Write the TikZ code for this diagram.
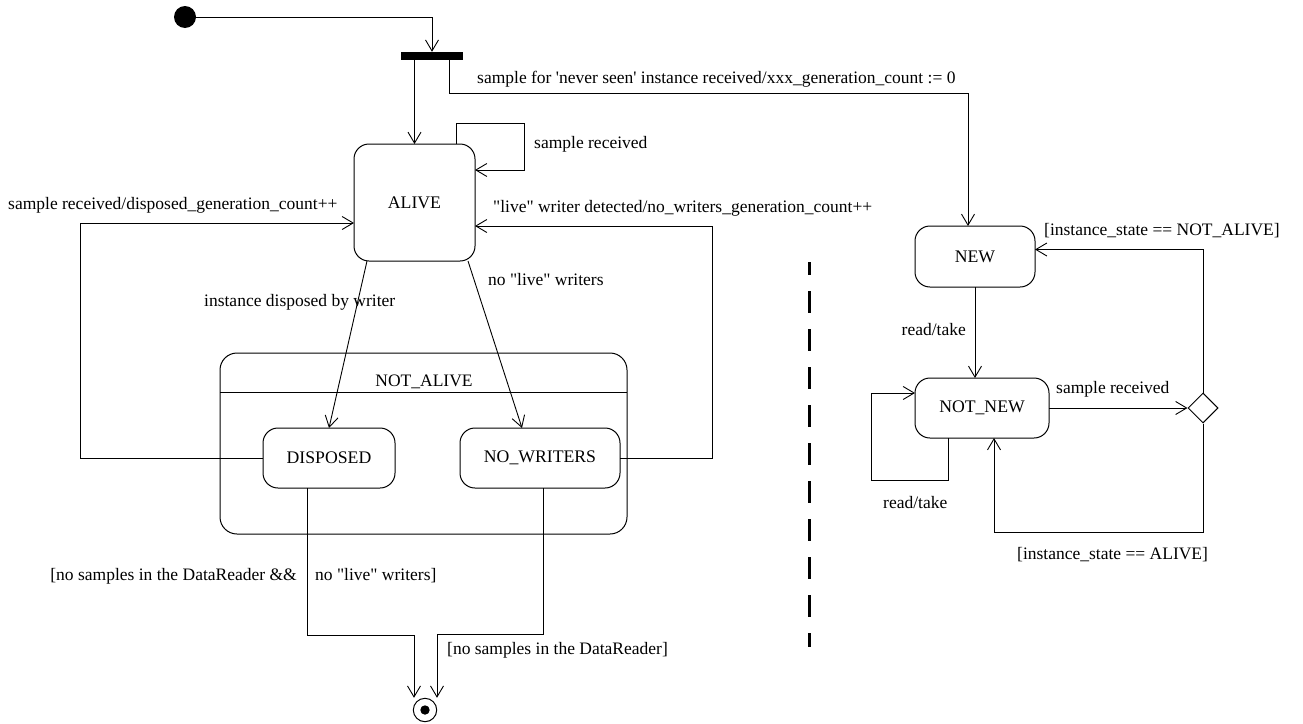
\documentclass[tikz,border=0pt]{standalone}
\usepackage{fontspec}
\setmainfont{Liberation Serif}[Ligatures=TeXOff]
\usetikzlibrary{arrows.meta,shapes.geometric,calc}
\tikzset{
  stbox/.style={draw,rounded corners=15pt,inner sep=0pt,outer sep=0pt,line width=1pt},
  arr/.style={line width=0.9pt,-{Straight Barb[length=11pt,width=13pt,line width=0.9pt]}},
  lab/.style={inner sep=0pt,font=\fontsize{17.5}{20}\selectfont},
  ln/.style={line width=0.9pt}
}
\begin{document}
\begin{tikzpicture}[x=1pt,y=-1pt,font=\fontsize{17.7}{20}\selectfont]
\useasboundingbox (0,0) rectangle (1303,723);
% nodes
\node[circle,fill=black,minimum size=22pt,inner sep=0pt] (init) at (185,17) {};
\node[fill=black,minimum width=62pt,minimum height=8pt,inner sep=0pt] (bar) at (432,56) {};
\node[stbox,minimum width=121pt,minimum height=117pt] (alive) at (414.5,202.5) {ALIVE};
\node[stbox,minimum width=407pt,minimum height=181pt,rounded corners=17pt] (notalive) at (423.5,443.5) {};
\node[lab] (natext) at (424,382) {NOT\_ALIVE};
\node[stbox,minimum width=132pt,minimum height=60pt] (disposed) at (329,458) {DISPOSED};
\node[stbox,minimum width=160pt,minimum height=60pt] (nowriters) at (540,458) {NO\_WRITERS};
\node[circle,draw,line width=1pt,minimum size=23.4pt,inner sep=0pt] (final) at (425,710) {};
\fill (final) circle (4.7pt);
\node[stbox,minimum width=120pt,minimum height=61pt] (new) at (975,256.5) {NEW};
\node[stbox,minimum width=134pt,minimum height=60pt] (notnew) at (982,408) {NOT\_NEW};
\node[diamond,draw,line width=1pt,minimum width=30pt,minimum height=30pt,inner sep=0pt] (dia) at (1203,408) {};
% separator of composite state
\coordinate (sep) at (0,392);
\draw[ln] (notalive.west |- sep) -- (notalive.east |- sep);
% coordinates for bends
\coordinate (k1) at (449,93);
\coordinate (sl) at (524,123);
\coordinate (ll) at (80,223);
\coordinate (rl) at (712,226);
\coordinate (f1) at (414,635);
\coordinate (f2) at (437,634);
\coordinate (g1) at (994,532);
\coordinate (nl) at (871,480);
% connectors
\draw[arr] (init.east) -| (bar.north);
\draw[arr] (alive.north |- bar.south) -- (alive.north);
\draw[arr] (bar.south -| k1) -- (k1) -| ([xshift=-7pt]new.north);
\draw[arr] ([xshift=42pt]alive.north) |- (sl) |- ([yshift=32.5pt]alive.east);
\draw[arr] (disposed.west) -| (ll) -- (alive.west |- ll);
\draw[arr] (nowriters.east) -| (rl) -- (alive.east |- rl);
\draw[arr] ([xshift=-47.5pt]alive.south) -- (disposed.north);
\draw[arr] ([xshift=53.5pt]alive.south) -- ([xshift=-18pt]nowriters.north);
\draw[arr] ([xshift=-22pt]disposed.south) |- (f1) -- (f1 |- final.north);
\draw[arr] ([xshift=3pt]nowriters.south) |- (f2) -- (f2 |- final.north);
\draw[arr] (new.south) -- (new.south |- notnew.north);
\draw[arr] (notnew.east) -- (dia.west);
\draw[arr] (dia.north) |- ([yshift=7pt]new.east);
\draw[arr] (dia.south) |- (g1) -- (g1 |- notnew.south);
\draw[arr] ([xshift=-34pt]notnew.south) |- (nl) |- ([yshift=15pt]notnew.west);
% dashed separator
\draw[line width=3pt,dash pattern=on 22pt off 16pt,dash phase=9pt] (809,262) -- (809,647);
% labels
\node[lab,anchor=west] (l1) at (477,79) {sample for 'never seen' instance received/xxx\_generation\_count := 0};
\node[lab,anchor=west] (l2) at (534,144) {sample received};
\node[lab,anchor=west] (l3) at (8,205) {sample received/disposed\_generation\_count++};
\node[lab,anchor=west] (l4) at (493,208) {"live" writer detected/no\_writers\_generation\_count++};
\node[lab,anchor=west] (l5) at (204,302) {instance disposed by writer};
\node[lab,anchor=west] (l6) at (488,280) {no "live" writers};
\node[lab,anchor=east] (l7) at (297,576) {[no samples in the DataReader \&\&};
\node[lab,anchor=west] (l8) at (315,576) {no "live" writers]};
\node[lab,anchor=west] (l9) at (447,650) {[no samples in the DataReader]};
\node[lab,anchor=west] (l10) at (1044,231) {[instance\_state == NOT\_ALIVE]};
\node[lab,anchor=east] (l11) at (966,330) {read/take};
\node[lab,anchor=west] (l12) at (1056,389) {sample received};
\node[lab,anchor=west] (l13) at (883,503) {read/take};
\node[lab,anchor=west] (l14) at (1017,555) {[instance\_state == ALIVE]};
\end{tikzpicture}
\end{document}
